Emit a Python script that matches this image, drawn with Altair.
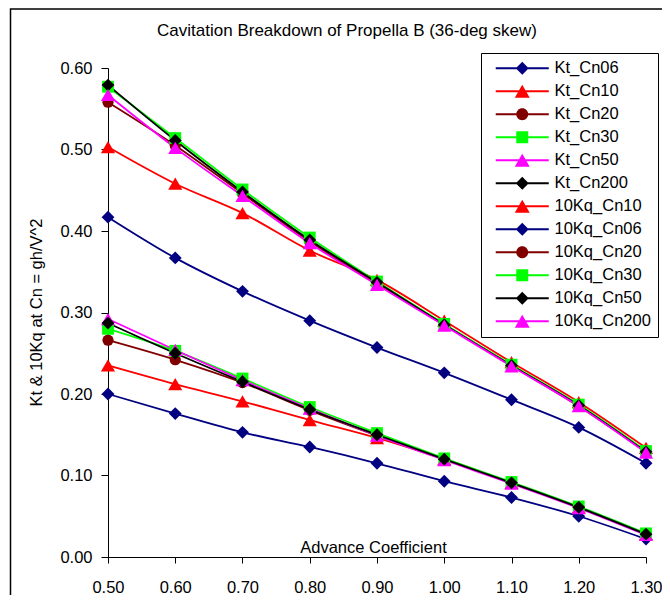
import altair as alt
import pandas as pd

# ---------------- data ----------------
J = [0.5, 0.6, 0.7, 0.8, 0.9, 1.0, 1.1, 1.2, 1.3]

series_names = ["Kt_Cn06", "Kt_Cn10", "Kt_Cn20", "Kt_Cn30", "Kt_Cn50", "Kt_Cn200",
                "10Kq_Cn10", "10Kq_Cn06", "10Kq_Cn20", "10Kq_Cn30", "10Kq_Cn50", "10Kq_Cn200"]

Kt_Cn06 = [0.200, 0.176, 0.153, 0.135, 0.115, 0.093, 0.073, 0.050, 0.022]
Kt_Cn10 = [0.235, 0.212, 0.191, 0.168, 0.146, 0.120, 0.091, 0.061, 0.028]
Kt_Cn20 = [0.266, 0.242, 0.214, 0.180, 0.149, 0.120, 0.091, 0.061, 0.028]
Kt_Cn30 = [0.280, 0.253, 0.219, 0.184, 0.152, 0.121, 0.092, 0.062, 0.029]
Kt_Cn50 = [0.292, 0.254, 0.217, 0.182, 0.149, 0.119, 0.090, 0.060, 0.027]
Kt_Cn200 = [0.287, 0.250, 0.215, 0.181, 0.150, 0.120, 0.091, 0.061, 0.028]

Kq10_Cn10 = [0.503, 0.458, 0.422, 0.376, 0.340, 0.290, 0.239, 0.190, 0.134]
Kq10_Cn06 = [0.417, 0.367, 0.326, 0.290, 0.257, 0.226, 0.193, 0.159, 0.115]
Kq10_Cn20 = [0.558, 0.505, 0.446, 0.387, 0.335, 0.285, 0.235, 0.185, 0.129]
Kq10_Cn30 = [0.577, 0.514, 0.451, 0.392, 0.338, 0.286, 0.236, 0.187, 0.130]
Kq10_Cn50 = [0.579, 0.511, 0.448, 0.389, 0.337, 0.285, 0.235, 0.186, 0.129]
Kq10_Cn200 = [0.567, 0.502, 0.443, 0.385, 0.334, 0.284, 0.234, 0.185, 0.128]

series_values = [Kt_Cn06, Kt_Cn10, Kt_Cn20, Kt_Cn30, Kt_Cn50, Kt_Cn200,
                 Kq10_Cn10, Kq10_Cn06, Kq10_Cn20, Kq10_Cn30, Kq10_Cn50, Kq10_Cn200]

colors = ["#000080", "#FF0000", "#800000", "#00FF00", "#FF00FF", "#000000",
          "#FF0000", "#000080", "#800000", "#00FF00", "#000000", "#FF00FF"]
kinds = ["diamond", "tri", "circle", "square", "tri", "diamond",
         "tri", "diamond", "circle", "square", "diamond", "tri"]

y_ticks = [0.0, 0.1, 0.2, 0.3, 0.4, 0.5, 0.6]

# ---------------- styling helpers ----------------
plot_shape = {"diamond": "diamond", "tri": "triangle-up", "circle": "circle", "square": "square"}
plot_size = {"diamond": 165, "tri": 200, "circle": 125, "square": 140}
LINE = "M-4.08,-0.14H4.08V0.14H-4.08Z"
legend_path = {
    "diamond": LINE + "M-1,0L0,-1L1,0L0,1Z",
    "tri": LINE + "M0,-1L1.15,1L-1.15,1Z",
    "circle": LINE + "M0.92,0A0.92,0.92 0 1 1 -0.92,0A0.92,0.92 0 1 1 0.92,0Z",
    "square": LINE + "M-0.92,-0.92H0.92V0.92H-0.92Z",
}

rows = []
for i, (name, vals) in enumerate(zip(series_names, series_values)):
    for j, v in zip(J, vals):
        rows.append({"series": name, "J": j, "val": v, "order": i,
                     "marker": plot_shape[kinds[i]], "msize": plot_size[kinds[i]]})
df = pd.DataFrame(rows)

FONT = "Liberation Sans"
FS = 16.5
W, H = 538, 489

x_enc = alt.X("J:Q",
              scale=alt.Scale(domain=[0.5, 1.3], nice=False, zero=False),
              axis=alt.Axis(values=J, format=".2f", title="Advance Coefficient",
                            titleX=265, titleY=-5, titleAlign="center",
                            titleBaseline="alphabetic", tickSize=6, labelPadding=16,
                            labelFlush=False))
y_enc = alt.Y("val:Q",
              scale=alt.Scale(domain=[0, 0.6], nice=False),
              axis=alt.Axis(values=y_ticks, format=".2f", title="Kt & 10Kq at Cn = gh/V^2",
                            titleX=-72, titleY=244, titleAngle=270, titleAlign="center",
                            titleBaseline="middle", tickSize=7, labelPadding=9,
                            labelFlush=False))

color_scale = alt.Scale(domain=series_names, range=colors)

lines = alt.Chart(df).mark_line(strokeWidth=1.8, interpolate="monotone").encode(
    x=x_enc, y=y_enc,
    color=alt.Color("series:N", scale=color_scale, legend=None),
    order=alt.Order("J:Q"),
)

points = alt.Chart(df).mark_point(filled=True, opacity=1).encode(
    x=x_enc, y=y_enc,
    color=alt.Color("series:N", scale=color_scale, legend=None),
    shape=alt.Shape("marker:N", scale=None),
    size=alt.Size("msize:Q", scale=None),
    order=alt.Order("order:Q"),
)

leg = alt.Legend(title=None, orient="none", legendX=373, legendY=-15,
                 padding=7, strokeColor="black", fillColor="white",
                 symbolSize=169, symbolStrokeWidth=0, symbolOffset=26,
                 labelOffset=24, labelFontSize=FS, labelFont=FONT, labelColor="black",
                 rowPadding=6.0, labelLimit=300, cornerRadius=0)

legend_layer = alt.Chart(df).transform_filter("false").mark_point(filled=True, opacity=1).encode(
    x=x_enc, y=y_enc,
    color=alt.Color("series:N", scale=color_scale, legend=leg),
    shape=alt.Shape("series:N",
                    scale=alt.Scale(domain=series_names, range=[legend_path[k] for k in kinds]),
                    legend=leg),
)

frame = alt.Chart(pd.DataFrame({"f": [0]})).mark_rect(
    fillOpacity=0, stroke="black", strokeWidth=1.5
).encode(x=alt.value(-97.5), x2=alt.value(900), y=alt.value(-59), y2=alt.value(900))

chart = alt.layer(frame, lines, points, legend_layer).resolve_scale(
    color="independent", shape="independent"
).properties(
    width=W, height=H,
    autosize=alt.AutoSizeParams(type="none"),
    padding={"left": 100, "top": 60, "right": 16, "bottom": 38},
    title=alt.TitleParams("Cavitation Breakdown of Propella B (36-deg skew)",
                          fontSize=17, fontWeight="normal", font=FONT, color="black",
                          anchor="middle", dx=-30, offset=0, baseline="alphabetic",
                          dy=45),
).configure(font=FONT, background="white").configure_view(strokeWidth=0).configure_axis(
    grid=False, domainColor="black", tickColor="black", domainWidth=1, tickWidth=1,
    labelFontSize=FS, labelFont=FONT, labelColor="black",
    titleFontSize=FS, titleFont=FONT, titleColor="black", titleFontWeight="normal",
)

chart.save("out.html", embed_options={"renderer": "svg", "actions": False})
